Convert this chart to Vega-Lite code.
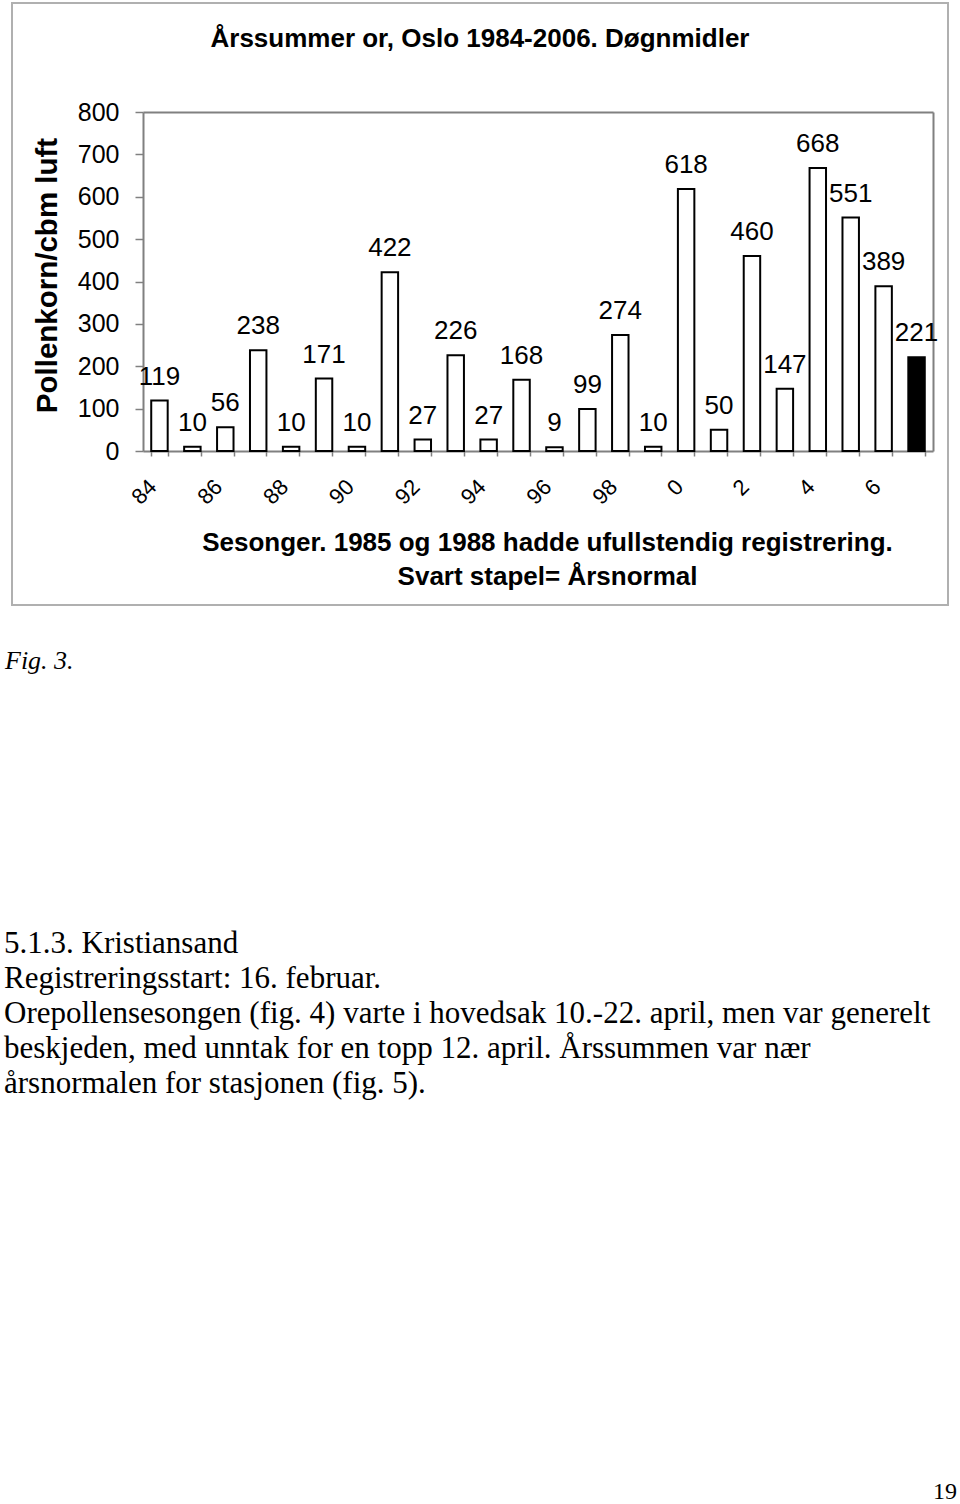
{
  "$schema": "https://vega.github.io/schema/vega-lite/v6.json",
  "padding": {"left": 3, "top": 2, "right": 0, "bottom": 0},
  "background": "white",
  "spacing": 0,
  "config": {
    "view": {"stroke": null},
    "font": "Liberation Sans",
    "text": {"color": "black"}
  },
  "vconcat": [
    {
      "width": 936,
      "height": 602,
      "view": {"stroke": "#b0b0b0", "strokeWidth": 2},
      "title": {
        "text": "Årssummer or, Oslo 1984-2006. Døgnmidler",
        "font": "Liberation Sans",
        "fontSize": 26,
        "fontWeight": "bold",
        "color": "black",
        "anchor": "middle",
        "baseline": "alphabetic",
        "offset": -70
      },
      "data": {
        "values": [
          {"sesong": "84", "verdi": 119},
          {"sesong": "85", "verdi": 10},
          {"sesong": "86", "verdi": 56},
          {"sesong": "87", "verdi": 238},
          {"sesong": "88", "verdi": 10},
          {"sesong": "89", "verdi": 171},
          {"sesong": "90", "verdi": 10},
          {"sesong": "91", "verdi": 422},
          {"sesong": "92", "verdi": 27},
          {"sesong": "93", "verdi": 226},
          {"sesong": "94", "verdi": 27},
          {"sesong": "95", "verdi": 168},
          {"sesong": "96", "verdi": 9},
          {"sesong": "97", "verdi": 99},
          {"sesong": "98", "verdi": 274},
          {"sesong": "99", "verdi": 10},
          {"sesong": "0", "verdi": 618},
          {"sesong": "1", "verdi": 50},
          {"sesong": "2", "verdi": 460},
          {"sesong": "3", "verdi": 147},
          {"sesong": "4", "verdi": 668},
          {"sesong": "5", "verdi": 551},
          {"sesong": "6", "verdi": 389},
          {"sesong": "Årsnormal", "verdi": 221}
        ]
      },
      "resolve": {"axis": {"x": "independent", "y": "independent"}},
      "layer": [
        {
          "mark": {"type": "bar", "stroke": "black", "strokeWidth": 2},
          "encoding": {
            "x": {
              "field": "sesong",
              "type": "ordinal",
              "sort": null,
              "scale": {"range": [131, 921], "paddingInner": 0.5, "paddingOuter": 0.25},
              "axis": {
                "orient": "bottom",
                "offset": -154,
                "domainColor": "#808080",
                "domainWidth": 2,
                "tickBand": "extent",
                "tickColor": "#808080",
                "tickWidth": 1.5,
                "tickSize": 5,
                "labelAngle": -45,
                "labelAlign": "right",
                "labelBaseline": "middle",
                "labelFontSize": 22,
                "labelColor": "black",
                "labelPadding": 27,
                "labelOffset": -7,
                "labelFont": "Liberation Sans",
                "labelOverlap": false,
                "labelExpr": "datum.label == 'Årsnormal' || toNumber(datum.label) % 2 != 0 ? '' : datum.label",
                "title": ["Sesonger. 1985 og 1988 hadde ufullstendig registrering.", "Svart stapel= Årsnormal"],
                "titleFont": "Liberation Sans",
                "titleFontSize": 26,
                "titleFontWeight": "bold",
                "titleColor": "black",
                "titleX": 535,
                "titleY": 99,
                "titleAlign": "center",
                "titleBaseline": "alphabetic",
                "titleLineHeight": 34,
                "grid": false
              }
            },
            "y": {
              "field": "verdi",
              "type": "quantitative",
              "scale": {"domain": [0, 800], "range": [448, 109], "nice": false},
              "axis": {
                "orient": "left",
                "offset": -131,
                "values": [0, 100, 200, 300, 400, 500, 600, 700, 800],
                "domainColor": "#808080",
                "domainWidth": 2,
                "tickColor": "#808080",
                "tickWidth": 1.5,
                "tickSize": 8,
                "labelFontSize": 25,
                "labelColor": "black",
                "labelPadding": 16,
                "labelFont": "Liberation Sans",
                "grid": false,
                "title": "Pollenkorn/cbm luft",
                "titleFont": "Liberation Sans",
                "titleFontSize": 29.5,
                "titleFontWeight": "bold",
                "titleColor": "black",
                "titleAngle": -90,
                "titleX": -96,
                "titleY": 272,
                "titleAlign": "center",
                "titleBaseline": "middle"
              }
            },
            "fill": {
              "condition": {"test": "datum.sesong == 'Årsnormal'", "value": "black"},
              "value": "white"
            }
          }
        },
        {
          "mark": {
            "type": "text",
            "font": "Liberation Sans",
            "fontSize": 26,
            "align": "center",
            "baseline": "alphabetic",
            "dy": -16,
            "color": "black"
          },
          "encoding": {
            "x": {
              "field": "sesong",
              "type": "ordinal",
              "sort": null,
              "axis": {
                "orient": "top",
                "offset": -109,
                "domainColor": "#808080",
                "domainWidth": 2,
                "ticks": false,
                "labels": false,
                "title": null,
                "grid": false
              }
            },
            "y": {
              "field": "verdi",
              "type": "quantitative",
              "axis": {
                "orient": "right",
                "offset": -15,
                "domainColor": "#808080",
                "domainWidth": 2,
                "ticks": false,
                "labels": false,
                "title": null,
                "grid": false
              }
            },
            "text": {"field": "verdi", "type": "quantitative"}
          }
        }
      ]
    },
    {
      "width": 936,
      "height": 110,
      "view": {"stroke": null},
      "data": {"values": [{"tekst": "Fig. 3."}]},
      "mark": {
        "type": "text",
        "align": "left",
        "baseline": "middle",
        "font": "Liberation Serif",
        "fontStyle": "italic",
        "fontSize": 26,
        "dx": -7,
        "color": "black"
      },
      "encoding": {
        "x": {"datum": 0, "type": "quantitative", "scale": {"domain": [0, 1]}, "axis": null},
        "text": {"field": "tekst"}
      }
    },
    {
      "width": 936,
      "height": 420,
      "view": {"stroke": null},
      "data": {
        "values": [
          {"linje": 1, "tekst": "5.1.3. Kristiansand"},
          {"linje": 2, "tekst": "Registreringsstart: 16. februar."},
          {"linje": 3, "tekst": "Orepollensesongen (fig. 4) varte i hovedsak 10.-22. april, men var generelt"},
          {"linje": 4, "tekst": "beskjeden, med unntak for en topp 12. april. Årssummen var nær"},
          {"linje": 5, "tekst": "årsnormalen for stasjonen (fig. 5)."}
        ]
      },
      "mark": {
        "type": "text",
        "align": "left",
        "baseline": "alphabetic",
        "font": "Liberation Serif",
        "fontSize": 31,
        "dx": -8,
        "color": "black"
      },
      "encoding": {
        "x": {"datum": 0, "type": "quantitative", "scale": {"domain": [0, 1]}, "axis": null},
        "y": {"field": "linje", "type": "ordinal", "scale": {"type": "point", "range": [237, 377], "padding": 0}, "axis": null},
        "text": {"field": "tekst"}
      }
    },
    {
      "width": 936,
      "height": 363,
      "view": {"stroke": null},
      "data": {"values": [{"side": "19"}]},
      "mark": {
        "type": "text",
        "align": "right",
        "baseline": "alphabetic",
        "font": "Liberation Serif",
        "fontSize": 24,
        "dx": 9,
        "color": "black"
      },
      "encoding": {
        "x": {"datum": 1, "type": "quantitative", "scale": {"domain": [0, 1]}, "axis": null},
        "y": {"datum": 0, "type": "quantitative", "scale": {"domain": [0, 1]}, "axis": null},
        "text": {"field": "side"}
      }
    }
  ]
}
